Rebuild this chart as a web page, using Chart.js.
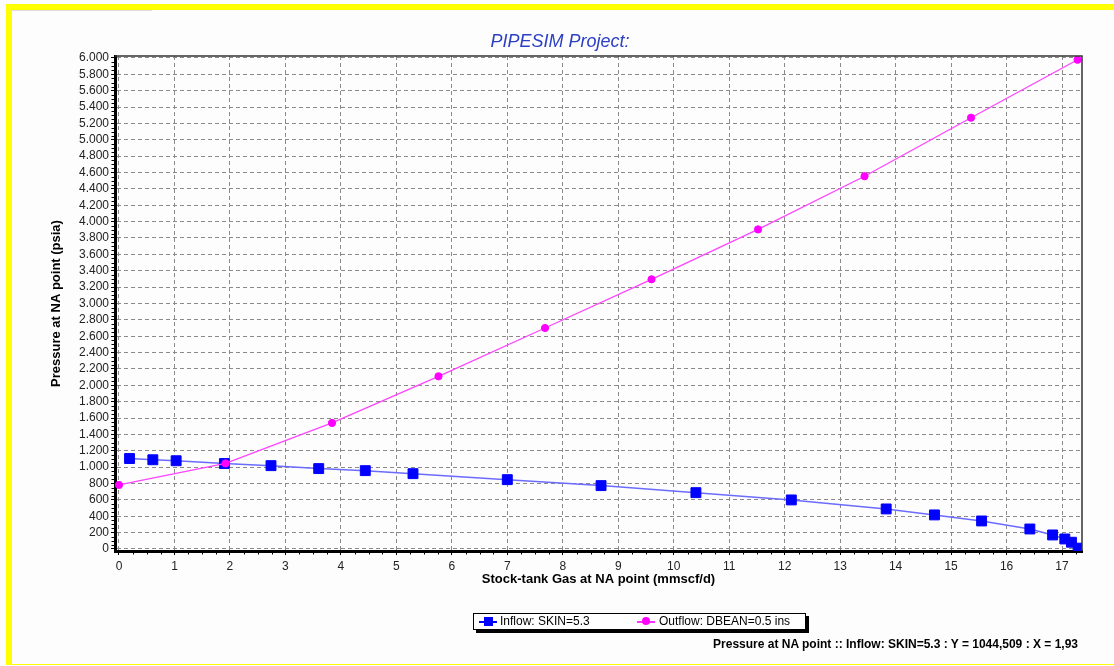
<!DOCTYPE html>
<html>
<head>
<meta charset="utf-8">
<script src="https://cdn.jsdelivr.net/npm/chart.js@4/dist/chart.umd.min.js"></script>
<style>
  html, body { margin: 0; padding: 0; background: #fdfdfd; }
  #wrap { position: relative; width: 1114px; height: 666px; overflow: hidden; font-family: "Liberation Sans", Arial, sans-serif; }
  #c { position: absolute; left: 0; top: 0; }
  .yb { position: absolute; background: #ffff00; }
  #title { position: absolute; left: 0; width: 1120px; top: 31px; text-align: center; font-style: italic; font-size: 18px; color: #2b3fc4; }
  #legend { position: absolute; left: 473px; top: 613px; width: 331px; height: 15px; border: 1px solid #000; background: #fff; box-shadow: 3px 3px 0 #000; font-size: 12px; color: #000; }
  .li { position: absolute; top: 0; height: 15px; line-height: 15px; white-space: nowrap; }
  .sym { position: absolute; top: 7px; width: 18px; height: 1.5px; }
  .mk { position: absolute; }
  #status { position: absolute; right: 36px; top: 637px; font-size: 12px; font-weight: bold; color: #000; white-space: nowrap; }
</style>
</head>
<body>
<div id="wrap">
  <canvas id="c" width="1114" height="666"></canvas>
  <div class="yb" style="left:6px;top:4px;width:1108px;height:6px;"></div>
  <div style="position:absolute;left:12px;top:10px;width:140px;height:1px;background:#ddd;"></div>
  <div class="yb" style="left:6px;top:4px;width:6px;height:661px;"></div>
  <div class="yb" style="left:6px;top:664px;width:1108px;height:1px;"></div>
  <div id="title">PIPESIM Project:</div>
  <div id="legend">
    <div class="sym" style="left:5px;background:#0000ff;"></div>
    <div class="mk" style="left:10px;top:3px;width:9px;height:9px;background:#0000ff;"></div>
    <div class="li" style="left:26px;">Inflow: SKIN=5.3</div>
    <div class="sym" style="left:163px;background:#ff33ff;"></div>
    <div class="mk" style="left:168px;top:3px;width:8px;height:8px;border-radius:50%;background:#ff00ff;"></div>
    <div class="li" style="left:185px;">Outflow: DBEAN=0.5 ins</div>
  </div>
  <div id="status">Pressure at NA point :: Inflow: SKIN=5.3 : Y = 1044,509 : X = 1,93</div>
</div>
<script>
// ---- data ----
const inflowX = [0.19, 0.61, 1.03, 1.90, 2.74, 3.60, 4.44, 5.30, 7.00, 8.69, 10.40, 12.12, 13.83, 14.70, 15.55, 16.42, 16.83, 17.05, 17.17, 17.29];
const inflowY = [1105, 1090, 1078, 1044, 1018, 982, 957, 920, 847, 774, 688, 599, 489, 416, 342, 244, 171, 122, 82, 10];
const outflowX = [0, 1.92, 3.84, 5.76, 7.68, 9.60, 11.52, 13.44, 15.36, 17.28];
const outflowY = [782, 1045, 1540, 2110, 2700, 3295, 3905, 4555, 5270, 5978];
const xTicks = [0, 1, 2, 3, 4, 5, 6, 7, 8, 9, 10, 11, 12, 13, 14, 15, 16, 17];
const yTicks = [0, 200, 400, 600, 800, 1000, 1200, 1400, 1600, 1800, 2000, 2200, 2400, 2600, 2800, 3000,
                3200, 3400, 3600, 3800, 4000, 4200, 4400, 4600, 4800, 5000, 5200, 5400, 5600, 5800, 6000];
const seriesNames = ["Inflow: SKIN=5.3", "Outflow: DBEAN=0.5 ins"];

const toPts = (xs, ys) => xs.map((x, i) => ({ x: x, y: ys[i] }));
const fmtY = v => String(v).replace(/\B(?=(\d{3})+(?!\d))/g, '.');

const FONT = "'Liberation Sans', Arial, sans-serif";

const decor = {
  id: 'decor',
  afterDraw(chart) {
    const { ctx, chartArea: a, scales } = chart;
    ctx.save();
    // top and right frame
    ctx.strokeStyle = '#333';
    ctx.lineWidth = 1.5;
    ctx.beginPath();
    ctx.moveTo(a.left, a.top); ctx.lineTo(a.right, a.top); ctx.lineTo(a.right, a.bottom);
    ctx.stroke();
    // minor ticks
    ctx.strokeStyle = '#000';
    ctx.lineWidth = 1;
    ctx.beginPath();
    const xs = scales.x;
    for (let i = 0; i < xTicks.length; i++) {
      for (let k = 1; k < 4; k++) {
        const v = xTicks[i] + k * 0.25;
        if (v > xs.max) continue;
        const px = Math.round(xs.getPixelForValue(v)) + 0.5;
        ctx.moveTo(px, a.bottom + 1); ctx.lineTo(px, a.bottom + 3.5);
      }
    }
    const ys = scales.y;
    for (let i = 0; i < yTicks.length; i++) {
      for (let k = 1; k < 4; k++) {
        const v = yTicks[i] + k * 50;
        if (v > ys.max) continue;
        const py = Math.round(ys.getPixelForValue(v)) + 0.5;
        ctx.moveTo(a.left - 1, py); ctx.lineTo(a.left - 3.5, py);
      }
    }
    ctx.stroke();
    ctx.restore();
  }
};

new Chart(document.getElementById('c'), {
  type: 'scatter',
  data: {
    datasets: [
      {
        label: seriesNames[0],
        data: toPts(inflowX, inflowY),
        showLine: true,
        borderColor: '#6b6bff',
        borderWidth: 1.5,
        pointStyle: 'rect',
        pointRadius: 7,
        pointBorderWidth: 1,
        pointBackgroundColor: '#0000ff',
        pointBorderColor: '#0000ff',
        order: 2
      },
      {
        label: seriesNames[1],
        data: toPts(outflowX, outflowY),
        showLine: true,
        borderColor: '#ff44ff',
        borderWidth: 1.3,
        pointStyle: 'circle',
        pointRadius: 3.6,
        pointBorderWidth: 1,
        pointBackgroundColor: '#ff00ff',
        pointBorderColor: '#ff00ff',
        order: 1
      }
    ]
  },
  options: {
    responsive: false,
    animation: false,
    layout: { padding: { left: 0, top: 56, right: 32, bottom: 0 } },
    plugins: { legend: { display: false }, title: { display: false }, tooltip: { enabled: false } },
    scales: {
      x: {
        type: 'linear',
        min: -0.072, max: 17.36,
        afterBuildTicks: s => { s.ticks = xTicks.map(v => ({ value: v })); },
        afterFit: s => { s.height = 115; },
        ticks: { autoSkip: false, maxRotation: 0, padding: 4, color: '#222', font: { family: FONT, size: 12 } },
        grid: { color: '#8a8a8a', lineWidth: 1, drawTicks: true, tickLength: 4, tickColor: '#000', tickBorderDash: [], tickWidth: 1 },
        border: { display: true, color: '#000', width: 3, dash: [4, 3] },
        title: { display: true, text: 'Stock-tank Gas at NA point (mmscf/d)', color: '#000', font: { family: FONT, size: 13, weight: 'bold' }, padding: { top: 0, bottom: 79 } }
      },
      y: {
        type: 'linear',
        min: -25, max: 6024,
        afterBuildTicks: s => { s.ticks = yTicks.map(v => ({ value: v })); },
        afterFit: s => { s.width = 115; },
        ticks: { autoSkip: false, padding: 2, color: '#222', font: { family: FONT, size: 12 }, callback: v => fmtY(v) },
        grid: { color: '#8a8a8a', lineWidth: 1, drawTicks: true, tickLength: 4, tickColor: '#000', tickBorderDash: [], tickWidth: 1 },
        border: { display: true, color: '#000', width: 3, dash: [4, 3] },
        title: { display: true, text: 'Pressure at NA point (psia)', color: '#000', font: { family: FONT, size: 13, weight: 'bold' }, padding: { top: 49, bottom: 0 } }
      }
    }
  },
  plugins: [decor]
});
</script>
</body>
</html>
